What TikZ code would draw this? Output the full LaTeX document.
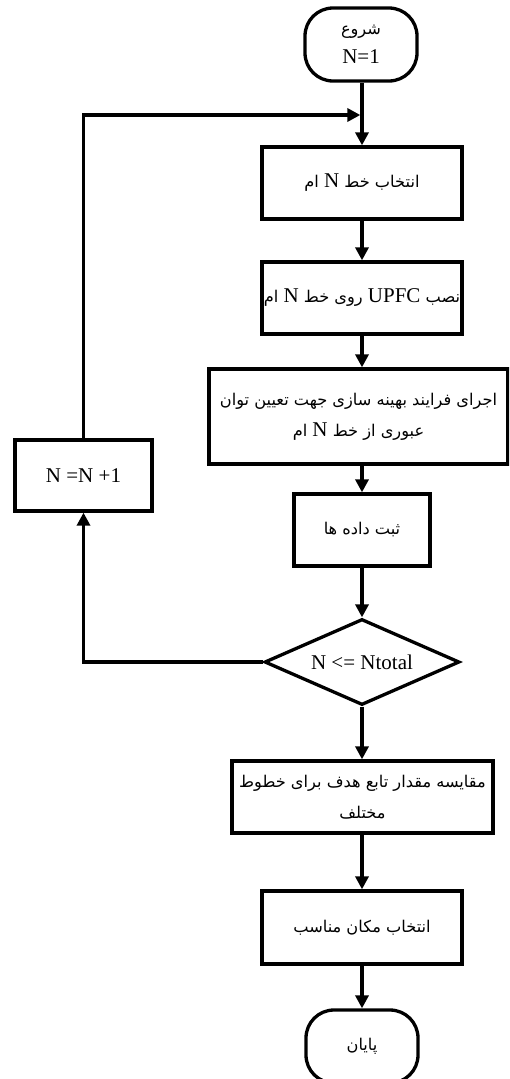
\documentclass[tikz,border=0pt]{standalone}
\usepackage{fontspec}
\setmainfont{Liberation Serif}
\newfontfamily\arf[Script=Arabic]{DejaVu Sans}
\TeXXeTstate=1
\usetikzlibrary{arrows.meta,shapes.geometric}
\newcommand\fa[1]{{\arf\fontsize{16.2}{18}\selectfont\beginR #1\endR}}
\newcommand\la[1]{{\rmfamily\fontsize{21}{24}\selectfont #1}}
\begin{document}
\begin{tikzpicture}[x=1pt,y=-1pt,line width=3.3pt,
  box/.style={draw,rectangle,inner sep=0pt,align=center,font=\fontsize{16}{31}\selectfont},
  term/.style={draw,rectangle,rounded corners=28pt,inner sep=0pt,align=center,minimum width=112pt,minimum height=73pt,font=\fontsize{16}{29}\selectfont},
  arr/.style={-{Triangle[length=13pt,width=13pt]}},
  dec/.style={draw,diamond,inner sep=0pt,aspect=2.27,minimum width=195pt,minimum height=86pt}]
\useasboundingbox (0,0) rectangle (509,1079);
\clip (0,0) rectangle (509,1079);
\node[term] (start) at (361,44.5) {\fa{شروع}\\\la{N=1}};
\node[box,minimum width=200pt,minimum height=72pt] (b1) at (362,183) {\fa{انتخاب خط \la{N} ام}};
\node[box,minimum width=200pt,minimum height=72pt] (b2) at (362,298) {\fa{نصب \la{UPFC} روی خط \la{N} ام}};
\node[box,minimum width=299pt,minimum height=95pt] (b3) at (358.5,416.5) {\fa{اجرای فرایند بهینه سازی جهت تعیین توان}\\\fa{عبوری از خط \la{N} ام}};
\node[box,minimum width=137pt,minimum height=71pt] (inc) at (83.5,475.5) {\la{N =N +1}};
\node[box,minimum width=136pt,minimum height=72pt] (b4) at (362,530) {\fa{ثبت داده ها}};
\node[dec] (d) at (362,662) {\la{N <= Ntotal}};
\node[box,minimum width=261pt,minimum height=72pt] (b5) at (362.5,797) {\fa{مقایسه مقدار تابع هدف برای خطوط}\\\fa{مختلف}};
\node[box,minimum width=200pt,minimum height=73pt] (b6) at (362,927.5) {\fa{انتخاب مکان مناسب}};
\node[term] (end) at (362,1046.5) {\fa{پایان}};
\coordinate (c1) at (84,115);
\draw[arr] (start.south -| b1) -- (b1.north);
\draw[arr] (b1) -- (b2);
\draw[arr] (b2.south) -- (b2.south |- b3.north);
\draw[arr] (b3.south -| b4) -- (b4.north);
\draw[arr] (b4) -- (d);
\draw[arr] (d) -- (d.south |- b5.north);
\draw[arr] (b5.south -| b6) -- (b6.north);
\draw[arr] (b6) -- (end);
\draw[arr] (d.west) -| (inc.south);
\draw[arr] (inc.north) |- ([xshift=-1.65pt]c1 -| b1);
\end{tikzpicture}
\end{document}
